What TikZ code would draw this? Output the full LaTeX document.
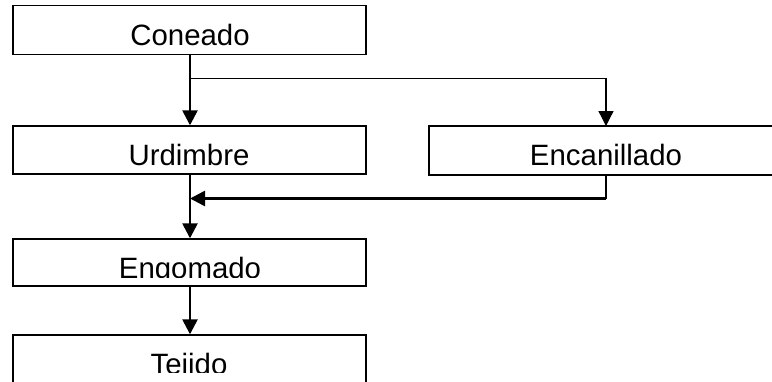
\documentclass[tikz,border=0pt]{standalone}
\usepackage{fontspec}
\setmainfont{Liberation Sans}
\usetikzlibrary{arrows.meta}

\begin{document}
\begin{tikzpicture}[x=1pt,y=1pt,
  stage/.style={draw=black, line width=1.4pt, rectangle, inner sep=0pt},
  label/.style={anchor=base, inner sep=0pt, font=\fontsize{29.4}{34}\selectfont},
  heavy/.style={line width=2.5pt},
  light/.style={line width=1.3pt},
  tip/.style={-{Triangle[width=15pt,length=15pt]}}]

  \useasboundingbox (0,0) rectangle (772,-381);
  \clip (0,0) rectangle (772,-381);

  % process boxes
  \node[stage, minimum width=353pt, minimum height=49pt] (con) at (189.5,-30) {};
  \node[stage, minimum width=353pt, minimum height=48pt] (urd) at (189.5,-150) {};
  \node[stage, minimum width=371pt, minimum height=49pt] (enc) at (614.5,-150.5) {};
  \node[stage, minimum width=353pt, minimum height=47pt] (eng) at (189.5,-262.5) {};
  \node[stage, minimum width=353pt, minimum height=85pt] (tej) at (189.5,-377.5) {};

  % box captions
  \node[label] (con-t) at (190,-45) {Coneado};
  \node[label] (urd-t) at (189,-165.5) {Urdimbre};
  \node[label] (enc-t) at (606,-165.5) {Encanillado};
  \begin{scope}
    \clip (13,-239) rectangle (366,-277.7);
    \node[label] (eng-t) at (190,-278) {Engomado};
  \end{scope}
  \begin{scope}
    \clip (13,-335) rectangle (366,-372);
    \node[label] (tej-t) at (189,-374) {Tejido};
  \end{scope}

  % connector points
  \coordinate (split) at (190,-78.3);
  \coordinate (encin) at (606,-126);
  \coordinate (encout) at (606,-175);
  \coordinate (merge) at (190,-198.5);

  % flow
  \draw[heavy, tip] (con.south -| split) -- (urd.north -| split);
  \draw[light, tip] (split) -| (encin);
  \draw[light] (encout) -- (encout |- merge);
  \draw[heavy, tip] (encout |- merge) -- (merge);
  \draw[heavy, tip] (urd.south -| split) -- (eng.north -| split);
  \draw[heavy, tip] (eng.south -| split) -- (tej.north -| split);
\end{tikzpicture}
\end{document}
